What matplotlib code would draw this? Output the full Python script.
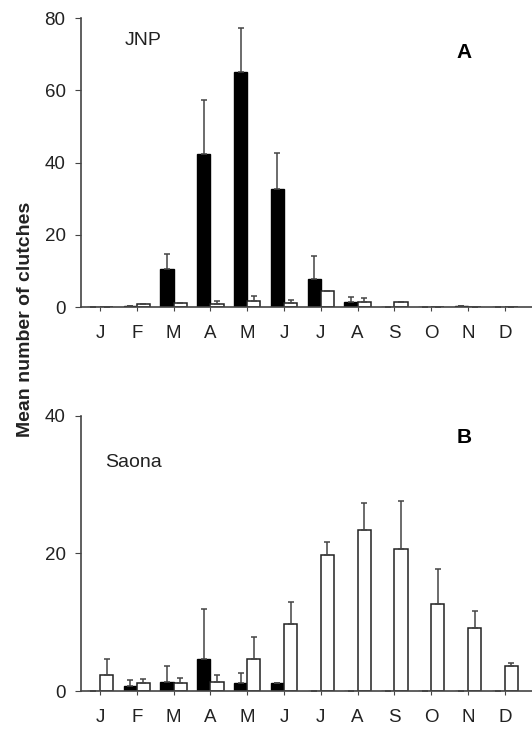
import numpy as np
import matplotlib
matplotlib.use("Agg")
import matplotlib.pyplot as plt

# -------------------------------------------------
# Data
# -------------------------------------------------
months = ["J", "F", "M", "A", "M", "J", "J", "A", "S", "O", "N", "D"]

# JNP (panel A)
jnp_black = [0, 0.4, 10.5, 42.3, 65.0, 32.8, 7.7, 1.3, 0, 0, 0.4, 0]
jnp_black_err = [0, 0, 4.3, 15.1, 12.2, 9.9, 6.3, 1.5, 0, 0, 0, 0]
jnp_white = [0, 0.7, 1.1, 0.9, 1.6, 1.1, 4.5, 1.3, 1.4, 0, 0, 0]
jnp_white_err = [0, 0, 0, 0.7, 1.4, 0.9, 0, 1.2, 0, 0, 0, 0]

# Saona (panel B)
saona_black = [0, 0.7, 1.3, 4.7, 1.1, 1.1, 0, 0, 0, 0, 0, 0]
saona_black_err = [0, 0.9, 2.3, 7.2, 1.5, 0, 0, 0, 0, 0, 0, 0]
saona_white = [2.4, 1.1, 1.1, 1.3, 4.7, 9.7, 19.8, 23.4, 20.6, 12.7, 9.1, 3.7]
saona_white_err = [2.3, 0.7, 0.8, 1.1, 3.1, 3.2, 1.9, 3.9, 7.1, 5.0, 2.6, 0.4]

plt.rcParams['font.family'] = ['Liberation Sans', 'DejaVu Sans']

BAR_W = 0.36
AX_COLOR = "#444444"
TXT_COLOR = "#222222"


def draw_panel(ax, black, black_err, white, white_err, ymax, yticks,
               site, site_xy, letter, letter_y):
    x = np.arange(len(months))
    err_kw = dict(ecolor="#444444", elinewidth=1.1, capsize=2.5, capthick=1.1)

    ax.bar(x, black, width=-BAR_W, align="edge", color="black",
           edgecolor="black", linewidth=1.0,
           yerr=[np.zeros(len(x)), black_err], error_kw=err_kw, zorder=2)
    ax.bar(x, white, width=BAR_W, align="edge", color="white",
           edgecolor="#222222", linewidth=1.1,
           yerr=[np.zeros(len(x)), white_err], error_kw=err_kw, zorder=2)

    ax.set_xlim(-0.52, 11.74)
    ax.set_ylim(0, ymax)
    ax.set_yticks(yticks)
    ax.set_xticks(x)
    ax.set_xticklabels(months)

    for side in ["top", "right"]:
        ax.spines[side].set_visible(False)
    for side in ["left", "bottom"]:
        ax.spines[side].set_color(AX_COLOR)
        ax.spines[side].set_linewidth(1.2)

    ax.tick_params(axis="x", length=3, pad=10, labelsize=13.5,
                   color=AX_COLOR, labelcolor=TXT_COLOR)
    ax.tick_params(axis="y", length=4, pad=7, labelsize=13.5,
                   color=AX_COLOR, labelcolor=TXT_COLOR)

    ax.text(site_xy[0], site_xy[1], site, transform=ax.transAxes,
            fontsize=14, va="center", ha="left", color=TXT_COLOR)
    ax.text(0.85, letter_y, letter, transform=ax.transAxes, fontsize=15,
            fontweight="bold", va="center", ha="center")


# -------------------------------------------------
# Figure
# -------------------------------------------------
fig = plt.figure(figsize=(5.32, 7.31), dpi=100)

ax_a = fig.add_axes([0.152, 0.580, 0.848, 0.395])
draw_panel(ax_a, jnp_black, jnp_black_err, jnp_white, jnp_white_err,
           80, [0, 20, 40, 60, 80], "JNP", (0.098, 0.924), "A", 0.88)

ax_b = fig.add_axes([0.152, 0.0547, 0.848, 0.3763])
draw_panel(ax_b, saona_black, saona_black_err, saona_white, saona_white_err,
           40, [0, 20, 40], "Saona", (0.053, 0.83), "B", 0.92)

fig.text(26 / 532, 1 - 319 / 731, "Mean number of clutches", rotation=90,
         fontsize=14, fontweight="bold", va="center", ha="center",
         color=TXT_COLOR)

fig.savefig("out.png", dpi=100)
